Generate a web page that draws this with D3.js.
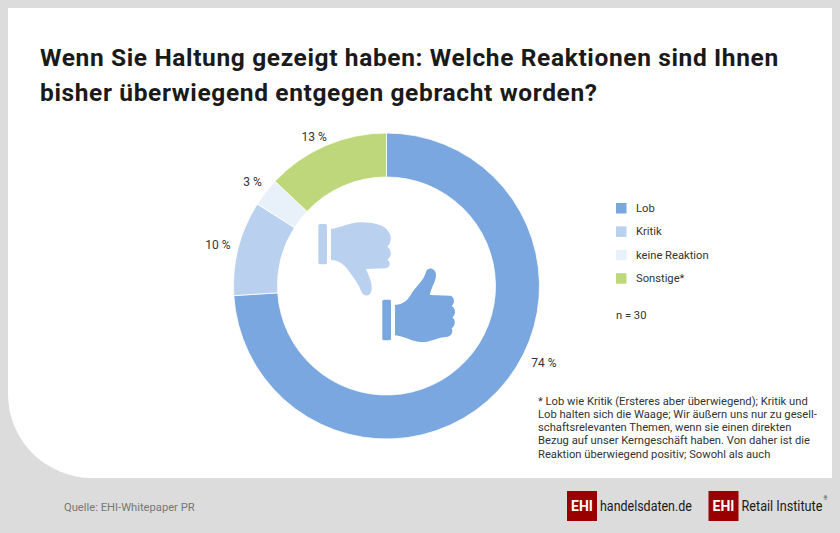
<!DOCTYPE html>
<html lang="de">
<head>
<meta charset="utf-8">
<title>Reaktionen auf Haltung</title>
<script src="https://cdn.jsdelivr.net/npm/d3@7"></script>
<style>
html, body { margin: 0; padding: 0; background: #dcdcdc; }
svg { display: block; }
text { font-family: Roboto, "Noto Sans", sans-serif; fill: #333; }
</style>
</head>
<body>
<svg id="chart" width="840" height="533"></svg>
<script>
var categories = ['Lob', 'Kritik', 'keine Reaktion', 'Sonstige*'];
var values = [74, 10, 3, 13];
var colors = ['#7aa7df', '#b9d1ee', '#e8f0fa', '#bdd77a'];
var titleLines = [
    'Wenn Sie Haltung gezeigt haben: Welche Reaktionen sind Ihnen',
    'bisher überwiegend entgegen gebracht worden?'
];
var footnoteLines = [
    '* Lob wie Kritik (Ersteres aber überwiegend); Kritik und',
    'Lob halten sich die Waage; Wir äußern uns nur zu gesell-',
    'schaftsrelevanten Themen, wenn sie einen direkten',
    'Bezug auf unser Kerngeschäft haben. Von daher ist die',
    'Reaktion überwiegend positiv; Sowohl als auch'
];
var sampleNote = 'n = 30';
var sourceNote = 'Quelle: EHI-Whitepaper PR';

var svg = d3.select('#chart');

// white card, only the lower left corner is rounded
var card = d3.path();
card.moveTo(8, 8);
card.lineTo(832, 8);
card.lineTo(832, 478);
card.lineTo(92, 478);
card.arcTo(8, 478, 8, 394, 84);
card.closePath();
svg.append('path').attr('d', card.toString()).attr('fill', '#fff');

svg.append('g').selectAll('text').data(titleLines).enter().append('text')
    .attr('x', 40)
    .attr('y', function(d, i) { return 66 + i * 35; })
    .attr('font-size', 24.5)
    .attr('font-weight', 700)
    .attr('letter-spacing', 0.63)
    .style('fill', '#1a1a1a')
    .text(function(d) { return d; });

// donut
var cx = 386.5, cy = 286, outer = 153, inner = 109;
var pie = d3.pie().sort(null)(values);
var arc = d3.arc().innerRadius(inner).outerRadius(outer);
var donut = svg.append('g').attr('transform', 'translate(' + cx + ',' + cy + ')');

donut.selectAll('path').data(pie).enter().append('path')
    .attr('d', arc)
    .attr('fill', function(d, i) { return colors[i]; })
    .attr('stroke', '#fff')
    .attr('stroke-width', 0.8);

// slice labels sit outside the ring, the big one is pulled up towards the legend
var labelArc = d3.arc().innerRadius(172).outerRadius(172);
var labelNudge = [[32, -41], [-2, 2], [2, 1], [-4, 9]];
donut.selectAll('text').data(pie).enter().append('text')
    .attr('transform', function(d, i) {
        var c = labelArc.centroid(d);
        return 'translate(' + (c[0] + labelNudge[i][0]) + ',' + (c[1] + labelNudge[i][1]) + ')';
    })
    .attr('text-anchor', 'middle')
    .attr('dy', '0.35em')
    .attr('font-size', 12)
    .text(function(d) { return d.value + ' %'; });

// thumbs, drawn in 3x units
var icons = svg.append('g').attr('transform', 'translate(280,200) scale(0.3333)');
icons.append('rect').attr('x', 115).attr('y', 72).attr('width', 26).attr('height', 121).attr('rx', 5).attr('fill', colors[1]);
icons.append('path').attr('fill', colors[1])
    .attr('d', 'M153,87 C180,85 205,67 245,67 C280,67 315,75 325,95 C335,105 335,130 322,140 C336,150 336,170 322,178 C335,190 328,205 315,205 L258,207 C265,225 277,245 275,270 C272,292 250,292 243,272 C235,250 215,225 200,205 C190,190 170,180 153,180 Z');
icons.append('rect').attr('x', 307).attr('y', 299).attr('width', 26).attr('height', 122).attr('rx', 5).attr('fill', colors[0]);
icons.append('path').attr('fill', colors[0])
    .attr('d', 'M345,315 C370,314 385,300 395,280 C410,255 430,245 438,215 C445,198 468,205 468,225 C468,245 450,270 450,285 L510,287 C525,290 525,310 515,318 C528,325 528,345 517,352 C528,360 526,378 515,385 C520,395 515,408 503,410 C470,412 450,428 420,426 C395,424 370,408 345,406 Z');

// legend
var legend = svg.append('g').selectAll('g').data(categories).enter().append('g')
    .attr('transform', function(d, i) { return 'translate(616,' + (203 + i * 23.4) + ')'; });
legend.append('rect').attr('width', 10.5).attr('height', 10.5)
    .attr('fill', function(d, i) { return colors[i]; });
legend.append('text').attr('x', 20).attr('y', 9)
    .attr('font-size', 11.2)
    .text(function(d) { return d; });

svg.append('text').attr('x', 616).attr('y', 319).attr('font-size', 11.2).text(sampleNote);

svg.append('g').selectAll('text').data(footnoteLines).enter().append('text')
    .attr('x', 538)
    .attr('y', function(d, i) { return 404.5 + i * 13.3; })
    .attr('font-size', 11.2)
    .text(function(d) { return d; });

svg.append('text').attr('x', 64).attr('y', 511).attr('font-size', 11.2)
    .style('fill', '#777').text(sourceNote);

// logos, the wordmark is a condensed face so squeeze it to the measured width
function logo(x, label, labelWidth) {
    var g = svg.append('g').attr('transform', 'translate(' + x + ',491)');
    g.append('rect').attr('width', 30).attr('height', 30).attr('fill', '#9b0000');
    g.append('text').attr('x', 15).attr('y', 20).attr('text-anchor', 'middle')
        .attr('font-size', 14).attr('font-weight', 700).style('fill', '#fff').text('EHI');
    var word = g.append('text')
        .attr('font-size', 15)
        .style('fill', '#1a1a1a').text(label);
    word.attr('transform', 'translate(33,20) scale(' + labelWidth / word.node().getComputedTextLength() + ',1)');
}
logo(567, 'handelsdaten.de', 92);
logo(708.5, 'Retail Institute', 81);
svg.append('text').attr('x', 823.5).attr('y', 500).attr('font-size', 5).text('®');
</script>
</body>
</html>
